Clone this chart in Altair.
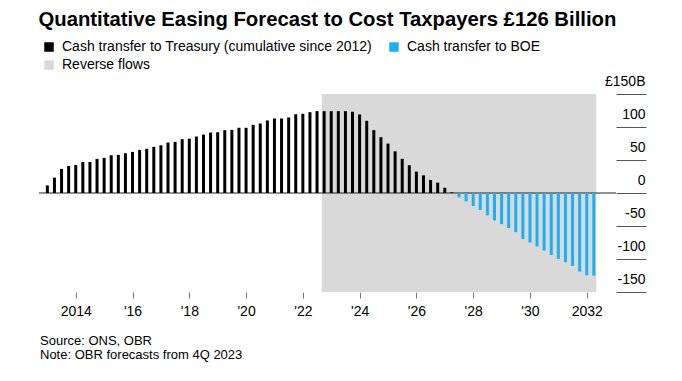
import json
import altair as alt
import pandas as pd

FONT = "Liberation Sans"

title_text = "Quantitative Easing Forecast to Cost Taxpayers £126 Billion"
treasury_name = "Cash transfer to Treasury (cumulative since 2012)"
boe_name = "Cash transfer to BOE"
reverse_name = "Reverse flows"
# legend is filled column by column: Treasury / Reverse flows, then BOE
legend_order = [treasury_name, reverse_name, boe_name]
legend_colors = ["#000000", "#d9d9d9", "#1ab0f5"]

# Quarterly bars, 2013Q1 .. 2032Q2
first_quarter = "2013Q1"

# Cash transfer to Treasury, £bn (2013Q1 .. 2027Q2)
treasury = [
    11.5, 23.3, 36.5, 41.0, 42.5, 47.0, 47.0, 51.7, 53.2, 57.2,
    57.7, 60.2, 62.3, 65.3, 66.9, 69.9, 72.3, 76.4, 77.5, 81.5,
    82.3, 85.6, 88.6, 91.6, 92.1, 95.2, 95.7, 98.8, 98.8, 103.3,
    105.3, 109.9, 112.9, 112.9, 114.4, 119.5, 120.0, 122.5, 124.0, 124.0,
    124.0, 124.0, 124.0, 123.1, 119.0, 109.4, 95.2, 84.5, 74.9, 63.2,
    51.7, 42.0, 32.4, 26.8, 19.7, 15.7, 8.0, 1.0,
]
# Cash transfer to BOE, £bn (2027Q3 .. 2032Q2)
boe = [
    -6.7, -12.8, -19.8, -25.8, -34.0, -41.6, -47.1, -53.2, -59.3, -69.5,
    -75.0, -81.1, -87.2, -93.8, -99.8, -104.9, -110.5, -119.1, -124.6, -125.2,
]

reverse_flow_quarters = ("2022Q4", "2032Q2")

x_tick_years = [2014, 2016, 2018, 2020, 2022, 2024, 2026, 2028, 2030, 2032]
x_tick_labels = ["2014", "'16", "'18", "'20", "'22", "'24", "'26", "'28", "'30", "2032"]
y_tick_values = [-150, -100, -50, 0, 50, 100, 150]
y_tick_labels = ["-150", "-100", "-50", "0", "50", "100", "£150B"]

footnotes = ["Source: ONS, OBR", "Note: OBR forecasts from 4Q 2023"]

# ---------------------------------------------------------------
W, H = 577, 198
X_DOMAIN = [2012.882, 2032.855]
SHADE_PAD = 0.085


def qpos(p):
    return p.year + (p.quarter - 1) / 4


periods = pd.period_range(first_quarter, periods=len(treasury) + len(boe), freq="Q")
bars = pd.DataFrame({
    "t": [qpos(p) for p in periods],
    "value": treasury + boe,
    "series": [treasury_name] * len(treasury) + [boe_name] * len(boe),
})

s0 = qpos(pd.Period(reverse_flow_quarters[0], freq="Q")) - SHADE_PAD
s1 = qpos(pd.Period(reverse_flow_quarters[1], freq="Q")) + SHADE_PAD
shade = pd.DataFrame({"x0": [s0], "x1": [s1], "y0": [-150], "y1": [150],
                      "series": [reverse_name]})


def label_expr(values, labels):
    expr = "''"
    for v, l in reversed(list(zip(values, labels))):
        expr = f"datum.value == {v} ? {json.dumps(l)} : ({expr})"
    return expr


xscale = alt.Scale(domain=X_DOMAIN, nice=False, zero=False)
yscale = alt.Scale(domain=[-150, 150], nice=False, zero=False)
color = alt.Color(
    "series:N",
    scale=alt.Scale(domain=legend_order, range=legend_colors),
    legend=alt.Legend(
        title=None, orient="none", legendX=3, legendY=-54, columns=2,
        columnPadding=15, rowPadding=4, symbolType="square", symbolSize=90,
        symbolStrokeWidth=0, labelFontSize=14, labelFont=FONT, labelColor="#000",
        labelOffset=6, padding=0, symbolOpacity=1, labelLimit=500,
    ),
)

x_axis = alt.Axis(
    values=x_tick_years, labelExpr=label_expr(x_tick_years, x_tick_labels),
    tickCount=len(x_tick_years) + 2,
    title=None, domain=False, grid=False, tickSize=6, tickColor="#777",
    labelFontSize=14, labelFont=FONT, labelColor="#000", labelPadding=6,
    labelFlush=False, labelOverlap=False,
)
y_axis = alt.Axis(
    orient="right", values=y_tick_values,
    labelExpr=label_expr(y_tick_values, y_tick_labels),
    tickCount=len(y_tick_values) + 2,
    title=None, domain=False, grid=False, tickSize=30, tickColor="#555",
    labelAlign="right", labelBaseline="middle", labelPadding=-1, labelOffset=-13,
    labelFontSize=14, labelFont=FONT, labelColor="#000", labelOverlap=False,
    labelFlush=False,
)

shade_layer = alt.Chart(shade).mark_rect().encode(
    x=alt.X("x0:Q", scale=xscale, axis=x_axis),
    x2="x1:Q",
    y=alt.Y("y0:Q", scale=yscale, axis=y_axis),
    y2="y1:Q",
    color=color,
)

zero_layer = alt.Chart(alt.Data(values=[{"v": 0}])).mark_rule(
    color="#222", strokeWidth=1
).encode(y=alt.Y("v:Q"), x=alt.value(0), x2=alt.value(W))

bar_layer = alt.Chart(bars).mark_bar(size=3).encode(
    x=alt.X("t:Q"),
    y=alt.Y("value:Q", stack=None),
    color=color,
)

foot_layers = [
    alt.Chart(alt.Data(values=[{"k": i}])).mark_text(
        align="left", baseline="middle", fontSize=13, font=FONT, color="#000"
    ).encode(x=alt.value(1), y=alt.value(246.5 + 14.2 * i), text=alt.value(txt))
    for i, txt in enumerate(footnotes)
]

chart = alt.layer(shade_layer, zero_layer, bar_layer, *foot_layers).properties(
    width=W, height=H,
    title=alt.TitleParams(
        title_text, anchor="start", fontSize=20.3, fontWeight="bold", font=FONT,
        color="#000", offset=10,
    ),
    autosize=alt.AutoSizeParams(type="none"),
    padding={"left": 31, "top": 86, "right": 45, "bottom": 78},
).configure_view(stroke=None)

chart.save("out.html", embed_options={"renderer": "svg", "actions": False})
